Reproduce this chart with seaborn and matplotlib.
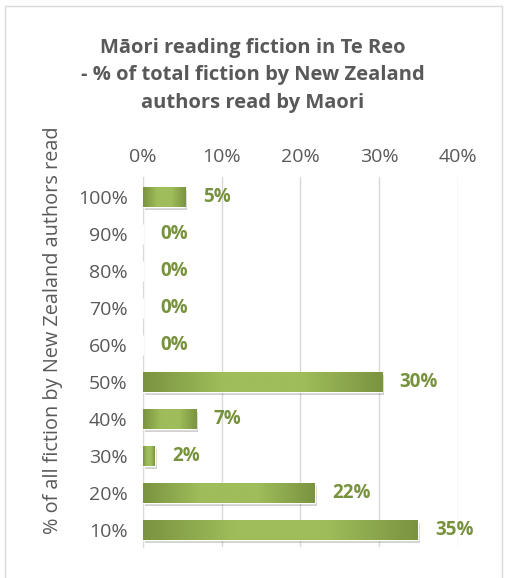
import numpy as np
import pandas as pd
import matplotlib
matplotlib.use('Agg')
import matplotlib.pyplot as plt
import seaborn as sns
from matplotlib.colors import LinearSegmentedColormap
from matplotlib.patches import Rectangle

# data (top to bottom as shown)
categories = ['100%', '90%', '80%', '70%', '60%', '50%', '40%', '30%', '20%', '10%']
values = [5.4, 0, 0, 0, 0, 30.4, 6.8, 1.5, 21.8, 34.9]
x_ticks = [0, 10, 20, 30, 40]

TITLE = 'Māori reading fiction in Te Reo\n- % of total fiction by New Zealand\nauthors read by Maori'
YLABEL = '% of all fiction by New Zealand authors read'

GRAY = '#595959'
GREEN_DARK = '#7a9340'
GREEN_LIGHT = '#9fbd5a'
LABEL_GREEN = '#77923c'

sns.set_style('white')
plt.rcParams['font.family'] = ['Open Sans', 'DejaVu Sans']

df = pd.DataFrame({'cat': categories, 'val': values})

fig = plt.figure(figsize=(5.05, 5.78), dpi=100)
ax = fig.add_axes([0.283, 0.0536, 0.624, 0.640])

sns.barplot(data=df, x='val', y='cat', order=categories, color=GREEN_LIGHT,
            width=0.55, ax=ax, zorder=3)

# gradient + shadow for each bar
cmap = LinearSegmentedColormap.from_list('grn', [GREEN_DARK, GREEN_LIGHT, GREEN_LIGHT, GREEN_DARK])
grad = np.linspace(0, 1, 256).reshape(1, -1)
for p in ax.patches:
    w = p.get_width()
    if w <= 0:
        continue
    x0, y0, h = p.get_x(), p.get_y(), p.get_height()
    shadow = Rectangle((x0 + 0.25, y0 + 0.08), w, h, facecolor='#000000', alpha=0.18,
                       edgecolor='none', zorder=2)
    ax.add_patch(shadow)
    im = ax.imshow(grad, extent=[x0, x0 + w, y0 + h, y0], aspect='auto', cmap=cmap,
                   zorder=4, interpolation='bicubic')
    im.set_clip_path(p)

for i, v in enumerate(values):
    ax.text(v + 2.2, i, f'{v:.0f}%', va='center', ha='left', color=LABEL_GREEN,
            fontsize=13.5, fontweight='bold', zorder=5)

ax.set_xlim(0, 40)
ax.set_ylim(9.46, -0.54)
ax.set_xticks(x_ticks)
ax.set_xticklabels([f'{t}%' for t in x_ticks])
ax.xaxis.tick_top()
ax.grid(axis='x', color='#d9d9d9', linewidth=1, zorder=0)
ax.set_axisbelow(True)
for s in ['top', 'right', 'bottom']:
    ax.spines[s].set_visible(False)
ax.spines['left'].set_color('#d9d9d9')
ax.tick_params(axis='y', length=0, labelsize=14, colors=GRAY, pad=11)
ax.tick_params(axis='x', length=0, labelsize=14, colors=GRAY, pad=8)
ax.set_xlabel('')
ax.set_ylabel(YLABEL, fontsize=14.3, color=GRAY, va='center')
ax.yaxis.set_label_coords(-0.286, 0.586)

fig.text(0.5, 0.870, TITLE, ha='center', va='center', fontsize=14.5, fontweight='bold',
         color=GRAY, linespacing=1.5)

fig.patches.append(Rectangle((5 / 505, -0.01), 497 / 505, 1 - 6 / 578 + 0.01,
                             transform=fig.transFigure, fill=False,
                             edgecolor='#d9d9d9', linewidth=1))

fig.savefig('out.png', dpi=100)
